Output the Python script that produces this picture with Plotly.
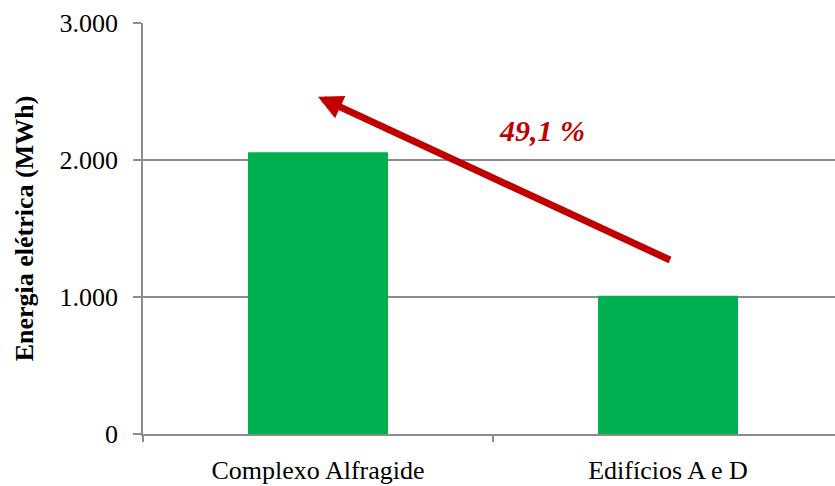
import plotly.graph_objects as go

# Annual electricity consumption (MWh)
categories = ["Complexo Alfragide", "Edifícios A e D"]
consumo_mwh = [2057, 1010]
y_ticks = [0, 1000, 2000, 3000]
y_tick_labels = ["0", "1.000", "2.000", "3.000"]
reducao_label = "49,1 %"

GREEN = "#00B050"
RED = "#C00000"
GRID = "#8C8C8C"
FONT = "Liberation Serif, Times New Roman, serif"

fig = go.Figure()
fig.add_trace(go.Bar(
    x=categories,
    y=consumo_mwh,
    marker=dict(color=GREEN, line=dict(width=0)),
    width=0.4,
))

# Arrow from the second bar back towards the first
fig.add_annotation(
    x=0.0, y=2462, xref="x", yref="y",
    ax=1.01, ay=1265, axref="x", ayref="y",
    showarrow=True, arrowhead=2, arrowsize=0.7, arrowwidth=7,
    arrowcolor=RED, standoff=0, startstandoff=0, text="",
)
fig.add_annotation(
    x=0.64, y=2216, xref="x", yref="y",
    text=f"<b><i>{reducao_label}</i></b>",
    showarrow=False,
    font=dict(family=FONT, size=30, color=RED),
)

fig.update_layout(
    width=835, height=486,
    margin=dict(l=143, r=0, t=23, b=52),
    plot_bgcolor="white", paper_bgcolor="white",
    showlegend=False,
    font=dict(family=FONT, size=26, color="black"),
    bargap=0.6,
)
fig.update_xaxes(
    range=[-0.5, 1.477],
    showline=True, linecolor=GRID, linewidth=1.5,
    ticks="outside", tickson="boundaries", ticklen=6, tickcolor=GRID, tickwidth=1.5,
    showgrid=False,
    tickfont=dict(family=FONT, size=26),
    ticklabelstandoff=12,
)
fig.update_yaxes(
    range=[0, 3000],
    tickvals=y_ticks, ticktext=y_tick_labels,
    showline=True, linecolor=GRID, linewidth=1.5,
    ticks="outside", ticklen=8, tickcolor=GRID, tickwidth=1.5,
    showgrid=True, gridcolor=GRID, gridwidth=1.5,
    zeroline=False,
    tickfont=dict(family=FONT, size=26),
    ticklabelstandoff=10,
    title=dict(text="<b>Energia elétrica (MWh)</b>", font=dict(family=FONT, size=26), standoff=18),
)

fig.write_html("out.html")
